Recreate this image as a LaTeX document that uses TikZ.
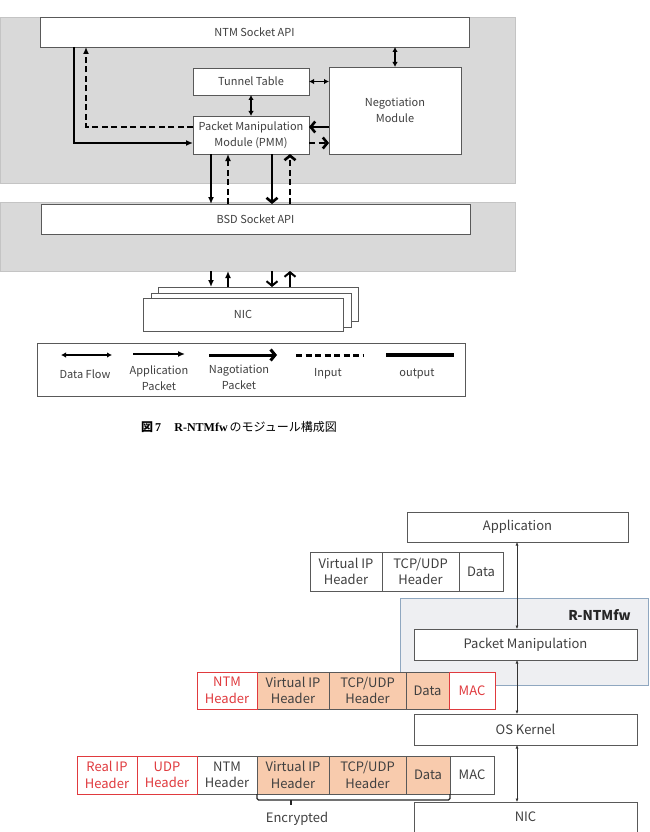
\documentclass[tikz,border=0pt]{standalone}
\usepackage{fontspec}
\setmainfont{Noto Sans CJK JP}
\newfontfamily\serifb{Liberation Serif}
\usetikzlibrary{arrows.meta,calc}
\definecolor{txt}{HTML}{404040}
\definecolor{boxgray}{HTML}{595959}
\definecolor{panelgray}{HTML}{D9D9D9}
\definecolor{panelline}{HTML}{C4C4C4}
\definecolor{redc}{HTML}{E03A3E}
\definecolor{orangec}{HTML}{F8CBAD}
\definecolor{regfill}{HTML}{EEEFF2}
\definecolor{regline}{HTML}{8FA7C0}
\begin{document}
\begin{tikzpicture}[x=1pt,y=-1pt,
  box/.style={draw=boxgray, line width=0.8pt, fill=white, inner sep=0pt, outer sep=0pt,
    align=center, text=txt, font=\fontsize{11}{16}\selectfont},
  bbox/.style={box, font=\fontsize{13}{16.5}\selectfont},
  cell/.style={draw=boxgray, line width=0.8pt, inner sep=0pt, outer sep=0pt,
    align=center, text=txt, font=\fontsize{13}{16.5}\selectfont},
  redcell/.style={cell, draw=redc, text=redc, fill=white},
  orcell/.style={cell, fill=orangec},
  panel/.style={fill=panelgray, draw=panelline, line width=0.6pt},
  lbl/.style={align=center, text=txt, inner sep=0pt, font=\fontsize{11}{16}\selectfont},
  blbl/.style={lbl, font=\fontsize{13}{16.5}\selectfont},
  app/.style={line width=2pt, -{Latex[length=7pt,width=6pt]}},
  nego/.style={line width=2.6pt, -{Straight Barb[length=4.5pt,width=11pt]}},
  dflow/.style={line width=1.6pt, {Latex[length=5pt,width=5.5pt]}-{Latex[length=5pt,width=5.5pt]}},
  indash/.style={dash pattern=on 6pt off 3.5pt},
  thinarrow/.style={line width=0.6pt, draw=black!80, {Latex[length=3.5pt,width=3pt]}-{Latex[length=3.5pt,width=3pt]}},
  brace/.style={line width=1.1pt, draw=black!85, rounded corners=1.5pt}
]
\useasboundingbox (0,0) rectangle (650,832);

% ---------- top diagram ----------
\node[panel, minimum width=515pt, minimum height=166pt, inner sep=0pt, outer sep=0pt] (panelA) at (257.5,100) {};
\node[panel, minimum width=515pt, minimum height=69pt, inner sep=0pt, outer sep=0pt] (panelB) at (257.5,236.5) {};

\node[box, minimum width=429pt, minimum height=30pt] (ntm) at (254.5,32) {NTM Socket API};
\node[box, minimum width=429pt, minimum height=30pt] (bsd) at (255.5,219) {BSD Socket API};
\node[box, minimum width=116pt, minimum height=27pt] (tunnel) at (251,81.5) {Tunnel Table};
\node[box, minimum width=132pt, minimum height=87pt] (nego) at (395,110.5) {Negotiation\\Module};
\node[box, minimum width=116pt, minimum height=38pt] (pmm) at (251,135) {Packet Manipulation\\Module (PMM)};

\node[box, minimum width=200pt, minimum height=34pt] (nic3) at (258,304) {};
\node[box, minimum width=200pt, minimum height=34pt] (nic2) at (251,310) {};
\node[box, minimum width=200pt, minimum height=33pt] (nic1) at (243,314.5) {NIC};

% connectors
\draw[app] ([xshift=34pt]ntm.south west) |- ([yshift=-8pt]pmm.west);
\draw[app, indash] ([yshift=8pt]pmm.west) -| ([xshift=46pt]ntm.south west);
\draw[nego] ([yshift=8pt]pmm.east -| nego.west) -- ([yshift=8pt]pmm.east);
\draw[nego, indash] ([yshift=-8pt]pmm.east) -- ([yshift=-8pt]pmm.east -| nego.west);
\draw[dflow] (tunnel.east) -- (tunnel.east -| nego.west);
\draw[dflow] (nego.north |- ntm.south) -- (nego.north);
\draw[dflow] (tunnel.south) -- (pmm.north);

\draw[app] ([xshift=18pt]pmm.south west) -- ([xshift=18pt]pmm.south west |- bsd.north);
\draw[app, indash] ([xshift=35pt]pmm.south west |- bsd.north) -- ([xshift=35pt]pmm.south west);
\draw[nego] ([xshift=79pt]pmm.south west) -- ([xshift=79pt]pmm.south west |- bsd.north);
\draw[nego, indash] ([xshift=97pt]pmm.south west |- bsd.north) -- ([xshift=97pt]pmm.south west);

\draw[app, line width=1.6pt] ([xshift=18pt]pmm.south west |- panelB.south) -- ([xshift=18pt]pmm.south west |- nic3.north);
\draw[app, line width=1.6pt] ([xshift=35pt]pmm.south west |- nic3.north) -- ([xshift=35pt]pmm.south west |- panelB.south);
\draw[nego, line width=2pt] ([xshift=79pt]pmm.south west |- panelB.south) -- ([xshift=79pt]pmm.south west |- nic3.north);
\draw[nego, line width=2pt] ([xshift=97pt]pmm.south west |- nic3.north) -- ([xshift=97pt]pmm.south west |- panelB.south);

% legend
\node[box, minimum width=428pt, minimum height=53pt] (legend) at (251,369.5) {};
\coordinate (l1a) at (61,355); \coordinate (l1b) at (112,355);
\coordinate (l2a) at (133,354); \coordinate (l2b) at (185,354);
\coordinate (l3a) at (209,355); \coordinate (l3b) at (277,355);
\coordinate (l4a) at (296,355); \coordinate (l4b) at (363,355);
\coordinate (l5a) at (386,355); \coordinate (l5b) at (454,355);
\draw[dflow] (l1a) -- (l1b);
\draw[app] (l2a) -- (l2b);
\draw[nego, line width=3pt] (l3a) -- (l3b);
\draw[line width=3pt, indash] (l4a) -- (l4b);
\draw[line width=3.5pt] (l5a) -- (l5b);
\node[lbl] (t1) at (85,374) {Data Flow};
\node[lbl] (t2) at (159,378) {Application\\Packet};
\node[lbl] (t3) at (239,377) {Nagotiation\\Packet};
\node[lbl] (t4) at (328,374) {Input};
\node[lbl] (t5) at (417,374) {output};

% caption
\node[inner sep=0pt, font=\fontsize{12}{14}\selectfont] (cap) at (239,427)
  {\textbf{図}\,{\serifb\bfseries 7}\hspace{1.1em}{\serifb\bfseries R-NTMfw}\,のモジュール構成図};

% ---------- bottom diagram ----------
\node[fill=regfill, draw=regline, line width=0.8pt, minimum width=248pt, minimum height=87pt,
  inner sep=0pt, outer sep=0pt] (region) at (524,641.5) {};
\node[anchor=east, inner sep=0pt, text=black!85, font=\fontsize{13.5}{16}\selectfont\bfseries] (rlabel) at (631,615) {R-NTMfw};

\node[bbox, minimum width=221pt, minimum height=30pt] (appl) at (517.5,527) {Application};
\node[bbox, minimum width=223pt, minimum height=31pt] (pm) at (525.5,644.5) {Packet Manipulation};
\node[bbox, minimum width=223pt, minimum height=31pt] (os) at (525.5,729.5) {OS Kernel};
\coordinate (nicnw) at (414,802);
\coordinate (nicne) at (637,802);
\draw[draw=boxgray, line width=0.8pt] (414,833) -- (nicnw) -- (nicne) -- (637,833);
\node[blbl] (nicb) at (525.5,817) {NIC};

\draw[thinarrow] (appl.south -| 517,0) -- (pm.north -| 517,0);
\draw[thinarrow] (pm.south -| 517,0) -- (os.north -| 517,0);
\draw[thinarrow] (os.south -| 517,0) -- (nicnw -| 517,0);

% row 1
\node[cell, fill=white, minimum width=72pt, minimum height=39pt] (r1vip) at (346,571.5) {Virtual IP\\Header};
\node[cell, fill=white, minimum width=77pt, minimum height=39pt] (r1tcp) at (420.5,571.5) {TCP/UDP\\Header};
\node[cell, fill=white, minimum width=44pt, minimum height=39pt] (r1data) at (481,571.5) {Data};

% row 2
\node[orcell, minimum width=72pt, minimum height=37pt] (r2vip) at (293,690.5) {Virtual IP\\Header};
\node[orcell, minimum width=77pt, minimum height=37pt] (r2tcp) at (367.5,690.5) {TCP/UDP\\Header};
\node[orcell, minimum width=43pt, minimum height=37pt] (r2data) at (427.5,690.5) {Data};
\node[redcell, minimum width=60pt, minimum height=37pt] (r2ntm) at (227,690.5) {NTM\\Header};
\node[redcell, minimum width=46pt, minimum height=37pt] (r2mac) at (472,690.5) {MAC};

% row 3
\node[cell, fill=white, minimum width=60pt, minimum height=38pt] (r3ntm) at (227,775) {NTM\\Header};
\node[orcell, minimum width=72pt, minimum height=38pt] (r3vip) at (293,775) {Virtual IP\\Header};
\node[orcell, minimum width=77pt, minimum height=38pt] (r3tcp) at (367.5,775) {TCP/UDP\\Header};
\node[orcell, minimum width=44pt, minimum height=38pt] (r3data) at (428,775) {Data};
\node[cell, fill=white, minimum width=44pt, minimum height=38pt] (r3mac) at (472,775) {MAC};
\node[redcell, minimum width=60pt, minimum height=38pt] (r3rip) at (107,775) {Real IP\\Header};
\node[redcell, minimum width=60pt, minimum height=38pt] (r3udp) at (167,775) {UDP\\Header};

% brace
\draw[brace] (r3vip.south west) -- ++(0,6) -- ($(r3data.south east)+(0,6)$) -- (r3data.south east);
\draw[line width=1.1pt, draw=black!85] ($(r3vip.south west)+(34,6)$) -- ++(0,5);
\node[blbl] (enc) at (297,819) {Encrypted};
\end{tikzpicture}
\end{document}
